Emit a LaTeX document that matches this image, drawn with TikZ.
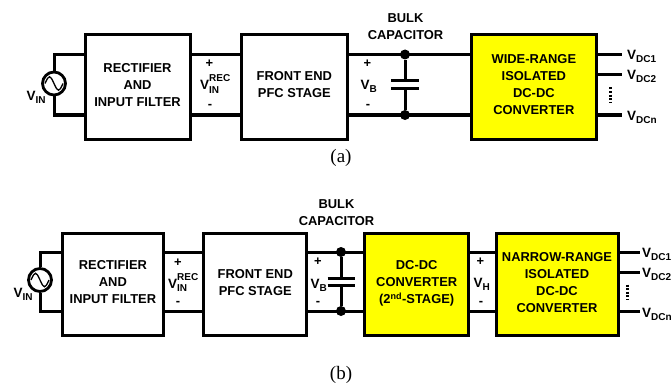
\documentclass[tikz,border=0pt]{standalone}
\usepackage{fontspec}
\setmainfont{Liberation Sans}
\newfontfamily\capfont{Liberation Serif}
\definecolor{boxyellow}{RGB}{255,255,0}
\newcommand{\lbl}{\fontsize{12.9}{17}\selectfont\bfseries}
\newcommand{\subsz}{\fontsize{10}{10}\selectfont\bfseries}
\newcommand{\up}{\rule[-4pt]{0pt}{0pt}}
\newcommand{\Vsub}[1]{\fontsize{13.5}{15}\selectfont\bfseries V\raisebox{-3pt}{\subsz #1}}
\newcommand{\Vboth}[2]{\fontsize{13.5}{15}\selectfont\bfseries V\rlap{\raisebox{-3.5pt}{\subsz #1}}\raisebox{8pt}{\subsz #2}}
\tikzset{
  x=1pt,y=-1pt,
  blockbox/.style={draw,line width=3pt,outer sep=0pt,align=center,inner sep=0pt,font=\lbl,anchor=north west},
  whitebox/.style={blockbox,fill=white},
  yellowbox/.style={blockbox,fill=boxyellow},
  wire/.style={line width=3pt},
  junction/.style={circle,fill=black,inner sep=0pt,minimum size=10pt},
  source/.style={circle,draw,line width=2.8pt,inner sep=0pt,minimum size=23pt,fill=white},
  txt/.style={inner sep=0pt,align=center},
  title/.style={inner sep=0pt,align=center,font=\lbl},
  dotv/.style={line width=3pt,dash pattern=on 2pt off 1.6pt},
}
\newcommand{\bx}[6]{\node[#1,minimum width=#4pt,minimum height=#5pt] (#2) at #3 {#6};}
\begin{document}
\begin{tikzpicture}
\useasboundingbox (0,0) rectangle (671,385);
% ---------- (a) ----------
\coordinate (st) at (54,54.5);
\coordinate (sb) at (54,115);
\node[source] (srcA) at (54,83.5) {};
\draw[line width=1.3pt] ([xshift=-9pt]srcA.center) .. controls +(4,-9) and +(-4,-9) .. (srcA.center) .. controls +(4,9) and +(-4,9) .. ([xshift=9pt]srcA.center);
\bx{whitebox}{recA}{(85,34.5)}{105}{104.5}{RECTIFIER\\AND\\INPUT FILTER\up}
\bx{whitebox}{pfcA}{(241,34.5)}{106.7}{104.5}{FRONT END\\PFC STAGE\up}
\bx{yellowbox}{dcA}{(471,34.5)}{125.7}{104.5}{WIDE-RANGE\\ISOLATED\\DC-DC\\CONVERTER\up}
\draw[wire] (srcA.north) |- (st) -- (st -| recA.west);
\draw[wire] (srcA.south) |- (sb) -- (sb -| recA.west);
\draw[wire] (st -| recA.east) -- (st -| pfcA.west);
\draw[wire] (sb -| recA.east) -- (sb -| pfcA.west);
\draw[wire] (st -| pfcA.east) -- (st -| dcA.west);
\draw[wire] (sb -| pfcA.east) -- (sb -| dcA.west);
\node[junction] (jtA) at (405,54.5) {};
\node[junction] (jbA) at (405,115) {};
\coordinate (capAt) at (405,81);
\coordinate (capAb) at (405,89);
\draw[wire] (jtA) -- (capAt);
\draw[wire] (jbA) -- (capAb);
\draw[wire] ([xshift=-14pt]capAt) -- ([xshift=14pt]capAt);
\draw[wire] ([xshift=-14pt]capAb) -- ([xshift=14pt]capAb);
\coordinate (oA1) at (622,54.5);
\coordinate (oA2) at (622,74.5);
\coordinate (oA3) at (622,115);
\draw[wire] (oA1 -| dcA.east) -- (oA1);
\draw[wire] (oA2 -| dcA.east) -- (oA2);
\draw[wire] (oA3 -| dcA.east) -- (oA3);
\coordinate (dA1) at (610,87.5);
\coordinate (dA2) at (610,102.5);
\draw[dotv] (dA1) -- (dA2);
\node[txt,anchor=base west] (vinA) at (26.5,100) {\Vsub{IN}};
\node[txt] (pA) at (209.5,64) {\lbl +};
\node[txt,anchor=base west] (vrecA) at (200,90) {\Vboth{IN}{REC}};
\node[txt] (mA) at (210,106.5) {\lbl -};
\node[txt] (pbA) at (367.5,64) {\lbl +};
\node[txt,anchor=base west] (vbA) at (360.5,90) {\Vsub{B}};
\node[txt] (mbA) at (368,106.5) {\lbl -};
\node[title] (bulkA) at (405.5,27) {BULK\\CAPACITOR};
\node[txt,anchor=base west] (v1A) at (627,59.5) {\Vsub{DC1}};
\node[txt,anchor=base west] (v2A) at (627,80) {\Vsub{DC2}};
\node[txt,anchor=base west] (v3A) at (627,121) {\Vsub{DCn}};
\node[txt,font=\capfont\fontsize{19}{20}\selectfont] (capA) at (341,158) {(a)};
% ---------- (b) ----------
\coordinate (bst) at (40,252);
\coordinate (bsb) at (40,311);
\node[source] (srcB) at (40,280) {};
\draw[line width=1.3pt] ([xshift=-9pt]srcB.center) .. controls +(4,-9) and +(-4,-9) .. (srcB.center) .. controls +(4,9) and +(-4,9) .. ([xshift=9pt]srcB.center);
\bx{whitebox}{recB}{(62,233)}{101.8}{102}{RECTIFIER\\AND\\INPUT FILTER\up}
\bx{whitebox}{pfcB}{(203.8,233)}{102.9}{102}{FRONT END\\PFC STAGE\up}
\bx{yellowbox}{dcB}{(364.7,233)}{104}{102}{DC-DC\\CONVERTER\\(2\textsuperscript{nd}-STAGE)\up}
\bx{yellowbox}{nrB}{(496,233)}{122}{102}{NARROW-RANGE\\ISOLATED\\DC-DC\\CONVERTER\up}
\draw[wire] (srcB.north) |- (bst) -- (bst -| recB.west);
\draw[wire] (srcB.south) |- (bsb) -- (bsb -| recB.west);
\draw[wire] (bst -| recB.east) -- (bst -| pfcB.west);
\draw[wire] (bsb -| recB.east) -- (bsb -| pfcB.west);
\draw[wire] (bst -| pfcB.east) -- (bst -| dcB.west);
\draw[wire] (bsb -| pfcB.east) -- (bsb -| dcB.west);
\draw[wire] (bst -| dcB.east) -- (bst -| nrB.west);
\draw[wire] (bsb -| dcB.east) -- (bsb -| nrB.west);
\node[junction] (jtB) at (341,252) {};
\node[junction] (jbB) at (341,311) {};
\coordinate (capBt) at (341,278);
\coordinate (capBb) at (341,285);
\draw[wire] (jtB) -- (capBt);
\draw[wire] (jbB) -- (capBb);
\draw[wire] ([xshift=-13.5pt]capBt) -- ([xshift=13.5pt]capBt);
\draw[wire] ([xshift=-13.5pt]capBb) -- ([xshift=13.5pt]capBb);
\coordinate (oB1) at (640,252);
\coordinate (oB2) at (640,272);
\coordinate (oB3) at (640,311);
\draw[wire] (oB1 -| nrB.east) -- (oB1);
\draw[wire] (oB2 -| nrB.east) -- (oB2);
\draw[wire] (oB3 -| nrB.east) -- (oB3);
\coordinate (dB1) at (627,284.5);
\coordinate (dB2) at (627,299);
\draw[dotv] (dB1) -- (dB2);
\node[txt,anchor=base west] (vinB) at (13.5,297) {\Vsub{IN}};
\node[txt] (pB) at (178,262.5) {\lbl +};
\node[txt,anchor=base west] (vrecB) at (168,288) {\Vboth{IN}{REC}};
\node[txt] (mB) at (178,303) {\lbl -};
\node[txt] (pbB) at (318,262) {\lbl +};
\node[txt,anchor=base west] (vbB) at (310.5,288) {\Vsub{B}};
\node[txt] (mbB) at (318,303) {\lbl -};
\node[txt] (phB) at (480.5,262) {\lbl +};
\node[txt,anchor=base west] (vhB) at (473.5,287) {\Vsub{H}};
\node[txt] (mhB) at (481,303) {\lbl -};
\node[title] (bulkB) at (336.5,212.5) {BULK\\CAPACITOR};
\node[txt,anchor=base west] (v1B) at (642,257) {\Vsub{DC1}};
\node[txt,anchor=base west] (v2B) at (642,277) {\Vsub{DC2}};
\node[txt,anchor=base west] (v3B) at (642,317) {\Vsub{DCn}};
\node[txt,font=\capfont\fontsize{19}{20}\selectfont] (capB) at (341,375) {(b)};
\end{tikzpicture}
\end{document}
